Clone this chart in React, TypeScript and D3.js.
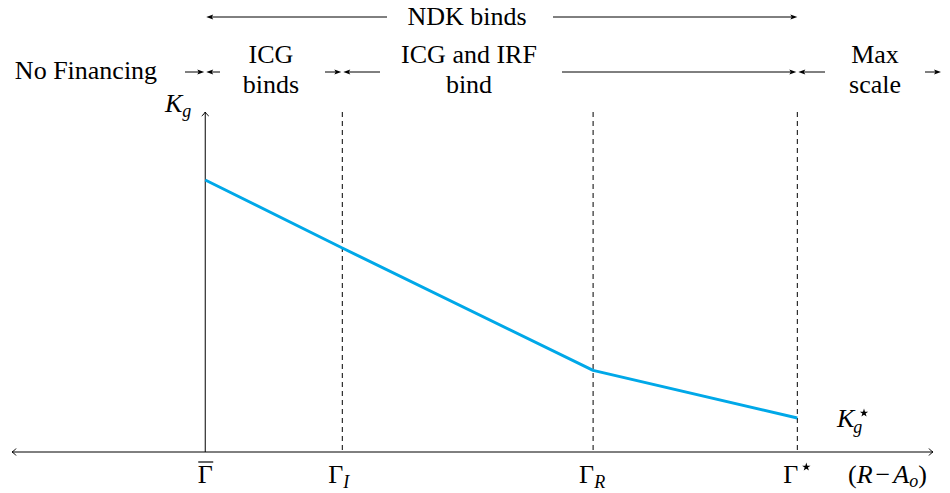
import React from "react";
import * as d3 from "d3";

// Threshold positions along (R - A_o)
const thresholdNames = ["GammaBar", "GammaI", "GammaR", "GammaStar"];
const thresholdX = [1.0, 2.0, 3.83, 5.32];
// K_g at each threshold (piecewise linear)
const kgValues = [0.8, 0.6, 0.24, 0.1];
// Axis extent
const axisDomainX = [-0.41, 6.31];
const axisDomainY = [0, 1];

const W = 950;
const H = 493;
const LINE = "#00a8e8";
const FONT = '"Liberation Serif"';

function Head({ x, y, dir }: { x: number; y: number; dir: 1 | -1 }) {
  const L = 7, Hh = 2.6;
  const p = `M${x},${y} L${x - dir * L},${y - Hh} L${x - dir * (L - 1.5)},${y} L${x - dir * L},${y + Hh} Z`;
  return <path d={p} fill="#000" stroke="none" />;
}

function Arrow({ x1, x2, y }: { x1: number; x2: number; y: number }) {
  const dir = x2 > x1 ? 1 : -1;
  return (
    <g>
      <line x1={x1} y1={y} x2={x2 - dir * 4} y2={y} stroke="#000" strokeWidth={1} />
      <Head x={x2} y={y} dir={dir as 1 | -1} />
    </g>
  );
}

function T({ children, ...rest }: any) {
  return (
    <text {...rest} fontFamily="Liberation Serif" style={{ fontFamily: FONT }}>
      {children}
    </text>
  );
}

const starPath = d3.symbol().type(d3.symbolStar).size(22)() || "";

export default function App() {
  const x = d3.scaleLinear().domain(axisDomainX).range([12, 933]);
  const y = d3.scaleLinear().domain(axisDomainY).range([452, 112]);
  const y0 = y(0);
  const yTop = y(1);

  const pts: [number, number][] = thresholdX.map((v, i) => [v, kgValues[i]]);
  const line = d3
    .line<[number, number]>()
    .x((d) => x(d[0]))
    .y((d) => y(d[1]));

  const xb = x(thresholdX[0]);
  const xi = x(thresholdX[1]);
  const xr = x(thresholdX[2]);
  const xs = x(thresholdX[3]);

  const fs = 26;
  const row1 = 72;
  const xl = x(axisDomainX[0]);
  const xR = x(axisDomainX[1]);

  return (
    <svg width={W} height={H} style={{ position: "absolute", left: 0, top: 0, fontFamily: FONT }}>
      {/* Top annotation: NDK binds */}
      <T x={467} y={25} fontSize={fs} textAnchor="middle">NDK binds</T>
      <Arrow x1={387} x2={xb + 1} y={17} />
      <Arrow x1={553} x2={xs} y={17} />

      {/* Regime row */}
      <T x={86} y={79} fontSize={fs} textAnchor="middle">No Financing</T>
      <Arrow x1={185} x2={xb - 1} y={row1} />
      <Arrow x1={220} x2={xb + 1} y={row1} />

      <T x={271} y={63} fontSize={fs} textAnchor="middle">ICG</T>
      <T x={271} y={93} fontSize={fs} textAnchor="middle">binds</T>
      <Arrow x1={325} x2={xi - 1} y={row1} />
      <Arrow x1={380} x2={xi + 1} y={row1} />

      <T x={469} y={63} fontSize={fs} textAnchor="middle">ICG and IRF</T>
      <T x={469} y={93} fontSize={fs} textAnchor="middle">bind</T>
      <Arrow x1={562} x2={xs - 1} y={row1} />
      <Arrow x1={825} x2={xs + 1} y={row1} />

      <T x={875} y={63} fontSize={fs} textAnchor="middle">Max</T>
      <T x={875} y={93} fontSize={fs} textAnchor="middle">scale</T>
      <Arrow x1={925} x2={941} y={row1} />

      {/* Horizontal axis with open arrowheads on both ends */}
      <line x1={xl} y1={y0} x2={xR} y2={y0} stroke="#000" strokeWidth={1} />
      <path
        d={`M${xl + 4},${y0 - 3.5} Q${xl + 1.5},${y0 - 0.5} ${xl},${y0} Q${xl + 1.5},${y0 + 0.5} ${xl + 4},${y0 + 3.5}`}
        fill="none"
        stroke="#000"
        strokeWidth={1}
      />
      <path
        d={`M${xR - 4},${y0 - 3.5} Q${xR - 1.5},${y0 - 0.5} ${xR},${y0} Q${xR - 1.5},${y0 + 0.5} ${xR - 4},${y0 + 3.5}`}
        fill="none"
        stroke="#000"
        strokeWidth={1}
      />

      {/* Vertical axis at Gamma bar */}
      <line x1={xb} y1={y0} x2={xb} y2={yTop} stroke="#000" strokeWidth={1} />
      <path
        d={`M${xb - 3.5},${yTop + 4} Q${xb - 0.5},${yTop + 1.5} ${xb},${yTop} Q${xb + 0.5},${yTop + 1.5} ${xb + 3.5},${yTop + 4}`}
        fill="none"
        stroke="#000"
        strokeWidth={1}
      />

      {/* Dashed threshold lines */}
      {[xi, xr, xs].map((xx, i) => (
        <line
          key={i}
          x1={xx}
          y1={yTop}
          x2={xx}
          y2={y0}
          stroke="#000"
          strokeWidth={1}
          strokeDasharray="5,4"
        />
      ))}

      {/* K_g line */}
      <path d={line(pts) || ""} fill="none" stroke={LINE} strokeWidth={3} strokeLinejoin="round" />

      {/* Axis labels */}
      <T x={165} y={112} fontSize={26} fontStyle="italic">
        K<tspan fontSize={18} dy={5}>g</tspan>
      </T>
      <T x={837} y={427} fontSize={26} fontStyle="italic">
        K<tspan fontSize={18} dx={-1} dy={6}>g</tspan>
      </T>
      <path d={starPath} transform="translate(864,413)" fill="#000" />

      {/* Tick labels */}
      <T x={xb} y={483} fontSize={fs} textAnchor="middle">Γ</T>
      <line x1={xb - 7} y1={462} x2={xb + 8} y2={462} stroke="#000" strokeWidth={1.2} />

      <T x={xi - 14} y={483} fontSize={fs}>
        Γ<tspan fontSize={18} fontStyle="italic" dy={5}>I</tspan>
      </T>
      <T x={xr - 14} y={483} fontSize={fs}>
        Γ<tspan fontSize={18} fontStyle="italic" dy={5}>R</tspan>
      </T>
      <T x={xs - 14} y={483} fontSize={fs}>Γ</T>
      <path d={starPath} transform={`translate(${xs + 9},467)`} fill="#000" />

      <T x={848} y={483} fontSize={fs}>
        (<tspan fontStyle="italic">R</tspan><tspan dx={3}>−</tspan><tspan dx={3} fontStyle="italic">A</tspan>
        <tspan fontSize={18} fontStyle="italic" dy={4}>o</tspan>
        <tspan dy={-4}>)</tspan>
      </T>
    </svg>
  );
}
